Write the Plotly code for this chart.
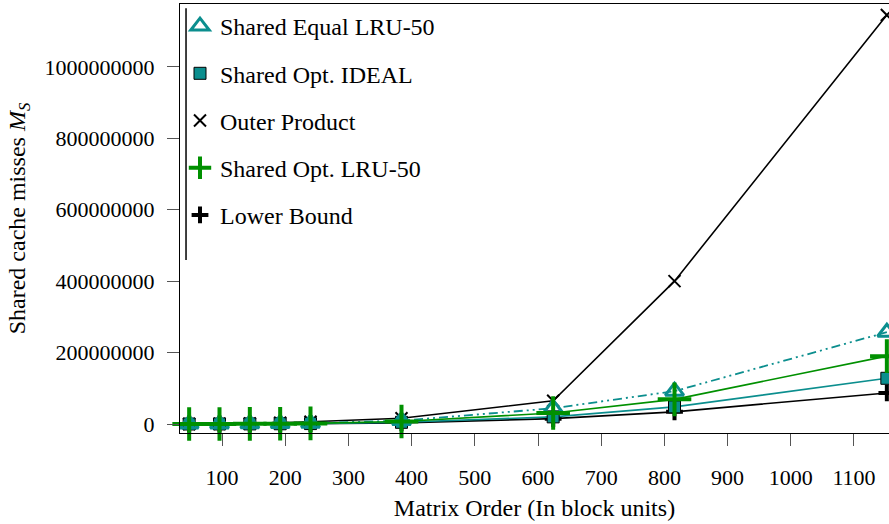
import plotly.graph_objects as go

# Matrix order (block units)
matrix_order = [48, 96, 144, 192, 240, 384, 624, 816, 1152]

# Shared cache misses
shared_equal_lru50 = [19000, 150000, 500000, 1200000, 2300000, 9500000, 44000000, 92000000, 257000000]
shared_opt_ideal = [9300, 74000, 250000, 590000, 1160000, 4700000, 20000000, 48000000, 128000000]
outer_product = [100000, 700000, 1600000, 3500000, 6500000, 16000000, 65000000, 400000000, 1145000000]
shared_opt_lru50 = [14000, 110000, 370000, 880000, 1700000, 7000000, 31000000, 69000000, 190000000]
lower_bound = [6000, 50000, 170000, 400000, 790000, 3200000, 15000000, 34000000, 87000000]

series_names = ["Shared Equal LRU-50", "Shared Opt. IDEAL", "Outer Product",
                "Shared Opt. LRU-50", "Lower Bound"]

x_ticks = [100, 200, 300, 400, 500, 600, 700, 800, 900, 1000, 1100]
y_ticks = [0, 200000000, 400000000, 600000000, 800000000, 1000000000]

TEAL = "#0b8e8e"
GREEN = "#009000"
BLACK = "#000000"
FONT = "Liberation Serif"

styles = {
    "Shared Equal LRU-50": dict(line=dict(color=TEAL, width=1.8, dash="9px,4px,2px,4px,2px,4px"),
                                marker=dict(symbol="triangle-up-open", size=16, color=TEAL,
                                            line=dict(color=TEAL, width=3))),
    "Shared Opt. IDEAL": dict(line=dict(color=TEAL, width=1.6),
                              marker=dict(symbol="square", size=12, color=TEAL,
                                          line=dict(color=BLACK, width=1))),
    "Outer Product": dict(line=dict(color=BLACK, width=1.6),
                          marker=dict(symbol="x-thin", size=12, color=BLACK,
                                      line=dict(color=BLACK, width=2))),
    "Shared Opt. LRU-50": dict(line=dict(color=GREEN, width=1.6),
                               marker=dict(symbol="cross-thin", size=24, color=GREEN,
                                           line=dict(color=GREEN, width=4))),
    "Lower Bound": dict(line=dict(color=BLACK, width=1.6),
                        marker=dict(symbol="cross-thin", size=12, color=BLACK,
                                    line=dict(color=BLACK, width=4))),
}

data = {
    "Shared Equal LRU-50": shared_equal_lru50,
    "Shared Opt. IDEAL": shared_opt_ideal,
    "Outer Product": outer_product,
    "Shared Opt. LRU-50": shared_opt_lru50,
    "Lower Bound": lower_bound,
}

fig = go.Figure()

# drawing order for data
for name in ["Lower Bound", "Outer Product", "Shared Opt. IDEAL", "Shared Equal LRU-50", "Shared Opt. LRU-50"]:
    st = styles[name]
    fig.add_trace(go.Scatter(x=matrix_order, y=data[name], mode="lines+markers", name=name,
                             line=st["line"], marker=st["marker"], showlegend=False,
                             cliponaxis=False))

# legend entries (markers only)
for i, name in enumerate(series_names):
    st = styles[name]
    fig.add_trace(go.Scatter(x=[None], y=[None], mode="markers", name=name,
                             marker=st["marker"], legendgroup=name, legendrank=i + 1,
                             showlegend=True))

fig.add_shape(type="line", xref="paper", yref="paper", x0=0.0085, x1=0.0085,
              y0=0.403, y1=0.99, line=dict(color=BLACK, width=1.5))

fig.update_layout(
    width=889, height=524,
    margin=dict(l=180, r=0, t=4, b=91, autoexpand=False),
    paper_bgcolor="white", plot_bgcolor="white",
    font=dict(family=FONT, size=22, color=BLACK),
    legend=dict(x=0.0, y=1.0, xanchor="left", yanchor="top",
                bgcolor="rgba(0,0,0,0)", borderwidth=0,
                tracegroupgap=13, itemsizing="trace",
                font=dict(family=FONT, size=24)),
    xaxis=dict(range=[33.5, 1155.4], tickvals=x_ticks, ticktext=[str(v) for v in x_ticks],
               ticks="outside", ticklen=12, tickcolor="#555555", tickwidth=1.2,
               showline=True, linecolor=BLACK, linewidth=1.2, mirror=True,
               showgrid=False, zeroline=False, ticklabelstandoff=12, automargin=False,
               tickfont=dict(family=FONT, size=22),
               title=dict(text="Matrix Order (In block units)", standoff=10,
                          font=dict(family=FONT, size=24))),
    yaxis=dict(range=[-25.2e6, 1176e6], tickvals=y_ticks, ticktext=[str(v) for v in y_ticks],
               ticks="outside", ticklen=12, tickcolor="#555555", tickwidth=1.2,
               showline=True, linecolor=BLACK, linewidth=1.2, mirror=True,
               showgrid=False, zeroline=False, ticklabelstandoff=8, automargin=False,
               tickfont=dict(family=FONT, size=22),
               title=dict(text="Shared cache misses <i>M</i><sub><i>S</i></sub>", standoff=12,
                          font=dict(family=FONT, size=24))),
)

fig.write_html("out.html", config={"displayModeBar": False},
               post_script="document.body.style.margin='0px';document.body.style.overflow='hidden';")
